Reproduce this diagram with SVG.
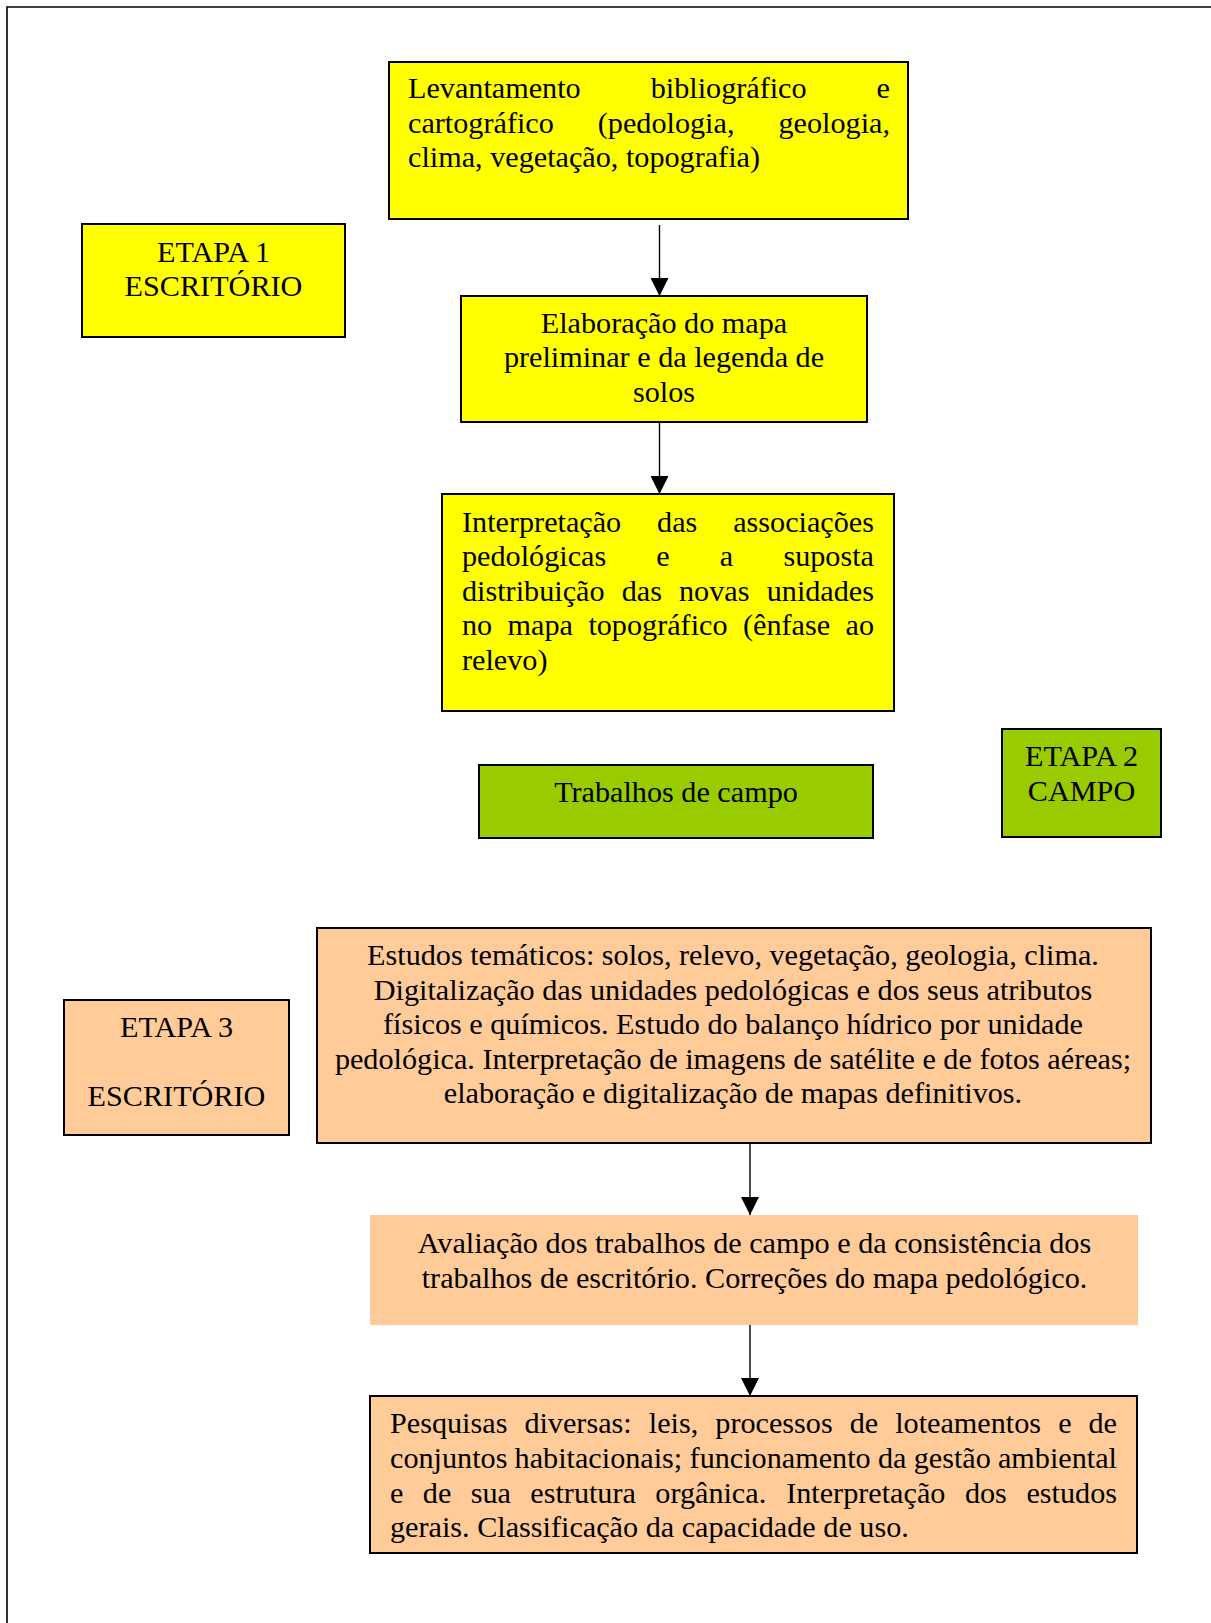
<svg xmlns="http://www.w3.org/2000/svg" width="1211" height="1623" viewBox="0 0 1211 1623">
<defs>
<style>
.t{font-family:"Liberation Serif","Times New Roman",serif;font-size:30.2px;fill:#000}
.c{text-anchor:middle}
.e{text-anchor:end}
.box{stroke:#000;stroke-width:2}
.y{fill:#FFFF00}
.g{fill:#99CC00}
.p{fill:#FFCC99}
.conn{stroke:#000;stroke-width:1.4;fill:none}
</style>
<marker id="ah" markerUnits="userSpaceOnUse" markerWidth="18" markerHeight="18" viewBox="0 0 18 18" refX="18" refY="9" orient="auto">
<path d="M0,0 L18,9 L0,18 z" fill="#000"/>
</marker>
</defs>
<rect width="1211" height="1623" fill="#fff"/>
<path d="M7,1630 V7 H1220" fill="none" stroke="#000" stroke-width="1.6"/>

<g id="node-levantamento">
<rect class="box y" x="389" y="62" width="519" height="157"/>
<text class="t" x="408" y="98">Levantamento</text>
<text class="t" x="650.7" y="98">bibliográfico</text>
<text class="t e" x="890" y="98">e</text>
<text class="t" x="408" y="133">cartográfico</text>
<text class="t" x="597.8" y="133">(pedologia,</text>
<text class="t e" x="890" y="133">geologia,</text>
<text class="t" x="408" y="167">clima, vegetação, topografia)</text>
</g>

<g id="node-etapa1">
<rect class="box y" x="82" y="224" width="263" height="113"/>
<text class="t c" x="213.5" y="261.5">ETAPA 1</text>
<text class="t c" x="213.5" y="295.5">ESCRITÓRIO</text>
</g>

<g id="node-elaboracao">
<rect class="box y" x="461" y="296" width="406" height="126"/>
<text class="t c" x="664" y="333">Elaboração do mapa</text>
<text class="t c" x="664" y="367">preliminar e da legenda de</text>
<text class="t c" x="664" y="402">solos</text>
</g>

<g id="node-interpretacao">
<rect class="box y" x="442" y="494" width="452" height="217"/>
<text class="t" x="462" y="531.5">Interpretação</text>
<text class="t" x="657.1" y="531.5">das</text>
<text class="t e" x="874" y="531.5">associações</text>
<text class="t" x="462" y="566">pedológicas</text>
<text class="t" x="656.3" y="566">e</text>
<text class="t" x="719.8" y="566">a</text>
<text class="t e" x="874" y="566">suposta</text>
<text class="t" x="462" y="600.5">distribuição</text>
<text class="t" x="621.7" y="600.5">das</text>
<text class="t" x="679" y="600.5">novas</text>
<text class="t e" x="874" y="600.5">unidades</text>
<text class="t" x="462" y="635">no</text>
<text class="t" x="507.6" y="635">mapa</text>
<text class="t" x="588.4" y="635">topográfico</text>
<text class="t" x="743" y="635">(ênfase</text>
<text class="t e" x="874" y="635">ao</text>
<text class="t" x="462" y="669.5">relevo)</text>
</g>

<g id="node-trabalhos">
<rect class="box g" x="479" y="765" width="394" height="73"/>
<text class="t c" x="676" y="802">Trabalhos de campo</text>
</g>

<g id="node-etapa2">
<rect class="box g" x="1002" y="729" width="159" height="108"/>
<text class="t c" x="1081.5" y="766">ETAPA 2</text>
<text class="t c" x="1081.5" y="801">CAMPO</text>
</g>

<g id="node-estudos">
<rect class="box p" x="317" y="928" width="834" height="215"/>
<text class="t c" x="733" y="965">Estudos temáticos: solos, relevo, vegetação, geologia, clima.</text>
<text class="t c" x="733" y="999.5">Digitalização das unidades pedológicas e dos seus atributos</text>
<text class="t c" x="733" y="1034">físicos e químicos. Estudo do balanço hídrico por unidade</text>
<text class="t c" x="733" y="1068.5">pedológica. Interpretação de imagens de satélite e de fotos aéreas;</text>
<text class="t c" x="733" y="1103">elaboração e digitalização de mapas definitivos.</text>
</g>

<g id="node-etapa3">
<rect class="box p" x="64" y="1000" width="225" height="135"/>
<text class="t c" x="176.5" y="1036.5">ETAPA 3</text>
<text class="t c" x="176.5" y="1106">ESCRITÓRIO</text>
</g>

<g id="node-avaliacao">
<rect class="p" x="370" y="1215" width="768" height="110"/>
<text class="t c" x="754.5" y="1253">Avaliação dos trabalhos de campo e da consistência dos</text>
<text class="t c" x="754.5" y="1288">trabalhos de escritório. Correções do mapa pedológico.</text>
</g>

<g id="node-pesquisas">
<rect class="box p" x="370" y="1396" width="767" height="157"/>
<text class="t" x="390" y="1433">Pesquisas</text>
<text class="t" x="524.4" y="1433">diversas:</text>
<text class="t" x="648.8" y="1433">leis,</text>
<text class="t" x="715.3" y="1433">processos</text>
<text class="t" x="849.7" y="1433">de</text>
<text class="t" x="895.2" y="1433">loteamentos</text>
<text class="t" x="1058.2" y="1433">e</text>
<text class="t e" x="1117" y="1433">de</text>
<text class="t" x="390" y="1468">conjuntos</text>
<text class="t" x="514.6" y="1468">habitacionais;</text>
<text class="t" x="689.6" y="1468">funcionamento</text>
<text class="t" x="878" y="1468">da</text>
<text class="t" x="913.7" y="1468">gestão</text>
<text class="t e" x="1117" y="1468">ambiental</text>
<text class="t" x="390" y="1502.5">e</text>
<text class="t" x="422.8" y="1502.5">de</text>
<text class="t" x="470.7" y="1502.5">sua</text>
<text class="t" x="530.3" y="1502.5">estrutura</text>
<text class="t" x="655.3" y="1502.5">orgânica.</text>
<text class="t" x="786.2" y="1502.5">Interpretação</text>
<text class="t" x="964.9" y="1502.5">dos</text>
<text class="t e" x="1117" y="1502.5">estudos</text>
<text class="t" x="390" y="1537">gerais. Classificação da capacidade de uso.</text>
</g>

<g id="connectors">
<line class="conn" x1="659.5" y1="225" x2="659.5" y2="296" marker-end="url(#ah)"/>
<line class="conn" x1="659.5" y1="422" x2="659.5" y2="494" marker-end="url(#ah)"/>
<line class="conn" x1="750" y1="1143" x2="750" y2="1215" marker-end="url(#ah)"/>
<line class="conn" x1="750" y1="1325" x2="750" y2="1396" marker-end="url(#ah)"/>
</g>
</svg>
